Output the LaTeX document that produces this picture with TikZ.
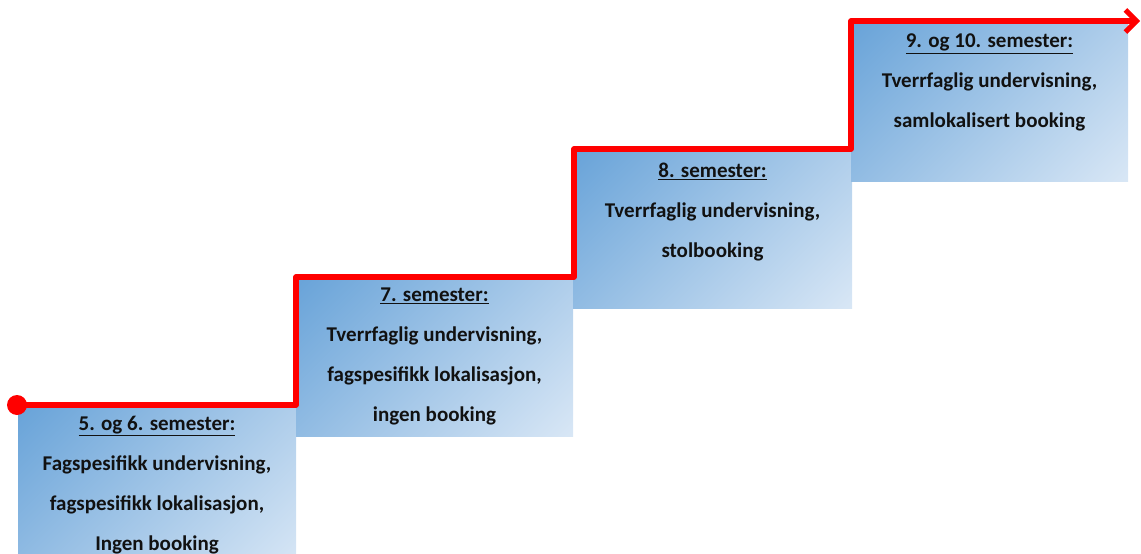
\documentclass[tikz,border=0pt]{standalone}
\usepackage{fontspec}
\setmainfont{Carlito}
\usetikzlibrary{arrows.meta}
\definecolor{bdark}{HTML}{5B9BD5}
\definecolor{blight}{HTML}{E6EFF9}
\definecolor{txt}{HTML}{111111}
\pgfdeclareverticalshading{stepshade}{100bp}{color(0bp)=(blight); color(6bp)=(blight); color(94bp)=(bdark); color(100bp)=(bdark)}
\tikzset{
  stepbox/.style={draw=none, shading=stepshade, shading angle=45},
  steptext/.style={anchor=north, inner sep=0pt, align=center, text=txt,
    font=\fontsize{21}{40}\selectfont\bfseries},
  redline/.style={draw=red, line width=5.5pt, line join=round},
}
\begin{document}
\begin{tikzpicture}[x=1pt,y=-1pt]
\useasboundingbox (0,0) rectangle (1141,554);
% boxes
\path[stepbox] (18,408) rectangle (296,570);
\path[stepbox] (296,280) rectangle (573,436);
\path[stepbox] (573,152) rectangle (852,308);
\path[stepbox] (851,24) rectangle (1128,181);
\node (b1) at (157,408) {};
\node (b2) at (434.5,280) {};
\node (b3) at (712.5,152) {};
\node (b4) at (989.5,24) {};
% texts
\node[steptext] (t1) at ([yshift=-8pt]b1.center) {\underline{5. og 6. semester:}\\Fagspesifikk undervisning,\\fagspesifikk lokalisasjon,\\Ingen booking};
\node[steptext] (t2) at ([yshift=-8pt]b2.center) {\underline{7. semester:}\\Tverrfaglig undervisning,\\fagspesifikk lokalisasjon,\\ingen booking};
\node[steptext] (t3) at ([yshift=-11pt]b3.center) {\underline{8. semester:}\\Tverrfaglig undervisning,\\stolbooking};
\node[steptext] (t4) at ([yshift=-10pt]b4.center) {\underline{9. og 10. semester:}\\Tverrfaglig undervisning,\\samlokalisert booking};
% red staircase
\node[circle, fill=red, minimum size=20pt, inner sep=0pt] (dot) at (17,405) {};
\coordinate (c1) at (296,405);
\coordinate (c2) at (296,277);
\coordinate (c3) at (574,277);
\coordinate (c4) at (574,149);
\coordinate (c5) at (851,149);
\coordinate (c6) at (851,21);
\coordinate (end) at (1140,21);
\draw[redline, -{Straight Barb[length=11pt,width=22pt,line width=5pt]}] (dot.center) -- (c1) -- (c2) -- (c3) -- (c4) -- (c5) -- (c6) -- (end);
\end{tikzpicture}
\end{document}
